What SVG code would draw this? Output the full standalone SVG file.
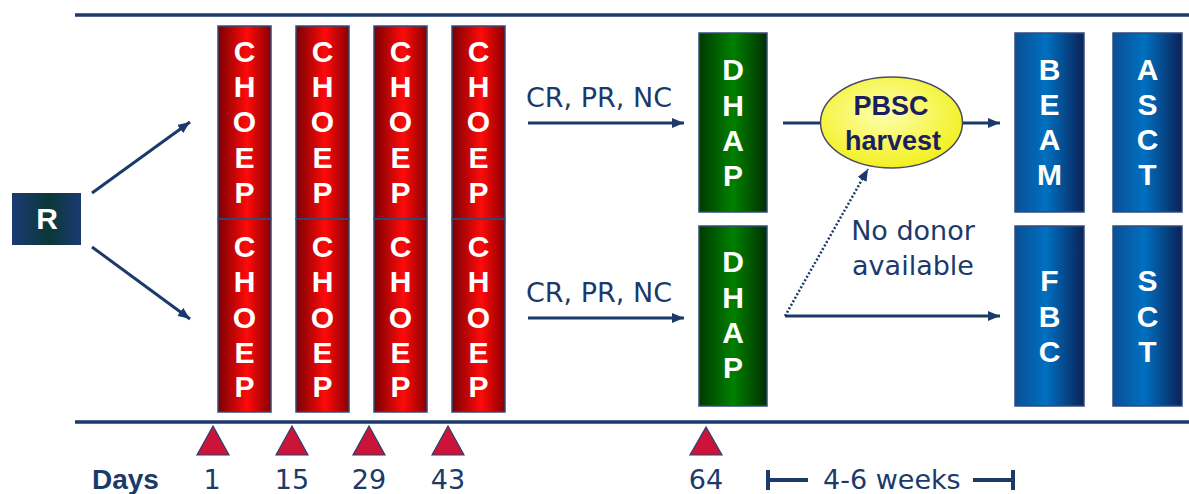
<svg xmlns="http://www.w3.org/2000/svg" width="1189" height="494" viewBox="0 0 1189 494">
<defs>
<linearGradient id="gRed" x1="0" y1="0" x2="1" y2="0">
<stop offset="0" stop-color="#7a0000"/>
<stop offset="0.55" stop-color="#ff0a0a"/>
<stop offset="1" stop-color="#8a0000"/>
</linearGradient>
<linearGradient id="gGreen" x1="0" y1="0" x2="1" y2="0">
<stop offset="0" stop-color="#003a00"/>
<stop offset="0.5" stop-color="#008000"/>
<stop offset="1" stop-color="#003000"/>
</linearGradient>
<linearGradient id="gBlue" x1="0" y1="0" x2="1" y2="0">
<stop offset="0" stop-color="#0a4f95"/>
<stop offset="0.45" stop-color="#0070c0"/>
<stop offset="1" stop-color="#0b2258"/>
</linearGradient>
<linearGradient id="gR" x1="0" y1="0" x2="1" y2="0">
<stop offset="0" stop-color="#1b3a72"/>
<stop offset="0.55" stop-color="#0a3838"/>
<stop offset="1" stop-color="#1b3a72"/>
</linearGradient>
<radialGradient id="gYel" cx="0.45" cy="0.4" r="0.6">
<stop offset="0" stop-color="#ffffb0"/>
<stop offset="1" stop-color="#f2f020"/>
</radialGradient>
<marker id="ah" viewBox="0 0 12 10" refX="12" refY="5" markerWidth="12" markerHeight="10" orient="auto" markerUnits="userSpaceOnUse">
<path d="M0,0 L12,5 L0,10 z" fill="#1b3a6b"/>
</marker>
<style>
.col{stroke:#34497a;stroke-width:1.5}
.red{fill:url(#gRed)}
.grn{fill:url(#gGreen)}
.blu{fill:url(#gBlue)}
.lt{font-family:"Liberation Sans",Arial,sans-serif;font-weight:bold;font-size:30px;fill:#ffffff;text-anchor:middle}
.lbl{font-family:"DejaVu Sans",Verdana,sans-serif;font-size:27px;fill:#1b3a6b}
.num{font-family:"DejaVu Sans",Verdana,sans-serif;font-size:27px;fill:#1b3a6b;text-anchor:middle}
.ln{stroke:#1b3a6b;stroke-width:3;fill:none}
.tri{fill:#cc1438;stroke:#2a3f70;stroke-width:1.2}
</style>
</defs>
<rect width="1189" height="494" fill="#ffffff"/>

<g id="frame">
<line x1="75" y1="15" x2="1189" y2="15" stroke="#1b3a6b" stroke-width="3.5"/>
<line x1="75" y1="422" x2="1189" y2="422" stroke="#1b3a6b" stroke-width="3.5"/>
</g>

<g id="R">
<rect x="12" y="193" width="69" height="52" fill="url(#gR)"/>
<text x="47" y="229" font-family="Liberation Sans,Arial,sans-serif" font-weight="bold" font-size="30" fill="#ffffff" text-anchor="middle">R</text>
</g>

<g id="choep1">
<rect class="col red" x="218" y="26" width="53" height="193"/>
<rect class="col red" x="218" y="219" width="53" height="193"/>
<text class="lt"><tspan x="244.5" y="62">C</tspan><tspan x="244.5" y="97">H</tspan><tspan x="244.5" y="132">O</tspan><tspan x="244.5" y="168">E</tspan><tspan x="244.5" y="203">P</tspan></text>
<text class="lt"><tspan x="244.5" y="257">C</tspan><tspan x="244.5" y="292">H</tspan><tspan x="244.5" y="328">O</tspan><tspan x="244.5" y="363">E</tspan><tspan x="244.5" y="397">P</tspan></text>
</g>
<g id="choep2">
<rect class="col red" x="296" y="26" width="53" height="193"/>
<rect class="col red" x="296" y="219" width="53" height="193"/>
<text class="lt"><tspan x="322.5" y="62">C</tspan><tspan x="322.5" y="97">H</tspan><tspan x="322.5" y="132">O</tspan><tspan x="322.5" y="168">E</tspan><tspan x="322.5" y="203">P</tspan></text>
<text class="lt"><tspan x="322.5" y="257">C</tspan><tspan x="322.5" y="292">H</tspan><tspan x="322.5" y="328">O</tspan><tspan x="322.5" y="363">E</tspan><tspan x="322.5" y="397">P</tspan></text>
</g>
<g id="choep3">
<rect class="col red" x="374" y="26" width="53" height="193"/>
<rect class="col red" x="374" y="219" width="53" height="193"/>
<text class="lt"><tspan x="400.5" y="62">C</tspan><tspan x="400.5" y="97">H</tspan><tspan x="400.5" y="132">O</tspan><tspan x="400.5" y="168">E</tspan><tspan x="400.5" y="203">P</tspan></text>
<text class="lt"><tspan x="400.5" y="257">C</tspan><tspan x="400.5" y="292">H</tspan><tspan x="400.5" y="328">O</tspan><tspan x="400.5" y="363">E</tspan><tspan x="400.5" y="397">P</tspan></text>
</g>
<g id="choep4">
<rect class="col red" x="452" y="26" width="53" height="193"/>
<rect class="col red" x="452" y="219" width="53" height="193"/>
<text class="lt"><tspan x="478.5" y="62">C</tspan><tspan x="478.5" y="97">H</tspan><tspan x="478.5" y="132">O</tspan><tspan x="478.5" y="168">E</tspan><tspan x="478.5" y="203">P</tspan></text>
<text class="lt"><tspan x="478.5" y="257">C</tspan><tspan x="478.5" y="292">H</tspan><tspan x="478.5" y="328">O</tspan><tspan x="478.5" y="363">E</tspan><tspan x="478.5" y="397">P</tspan></text>
</g>

<g id="dhap1">
<rect class="col grn" x="699" y="33" width="68" height="179"/>
<text class="lt"><tspan x="733" y="80">D</tspan><tspan x="733" y="116">H</tspan><tspan x="733" y="151">A</tspan><tspan x="733" y="186">P</tspan></text>
</g>
<g id="dhap2">
<rect class="col grn" x="699" y="226" width="68" height="180"/>
<text class="lt"><tspan x="733" y="272">D</tspan><tspan x="733" y="308">H</tspan><tspan x="733" y="343">A</tspan><tspan x="733" y="378">P</tspan></text>
</g>

<g id="pbsc">
<ellipse cx="891.5" cy="122.5" rx="71" ry="45.5" fill="url(#gYel)" stroke="#4a4a6a" stroke-width="1.5"/>
<text font-family="Liberation Sans,Arial,sans-serif" font-weight="bold" font-size="27" fill="#1a1f5e" text-anchor="middle"><tspan x="891" y="115">PBSC</tspan><tspan x="893" y="150">harvest</tspan></text>
</g>

<g id="beam">
<rect class="col blu" x="1015" y="33" width="69" height="179"/>
<text class="lt"><tspan x="1049.5" y="80">B</tspan><tspan x="1049.5" y="115">E</tspan><tspan x="1049.5" y="150">A</tspan><tspan x="1049.5" y="185">M</tspan></text>
</g>
<g id="asct">
<rect class="col blu" x="1113" y="33" width="69" height="179"/>
<text class="lt"><tspan x="1147.5" y="80">A</tspan><tspan x="1147.5" y="115">S</tspan><tspan x="1147.5" y="150">C</tspan><tspan x="1147.5" y="185">T</tspan></text>
</g>
<g id="fbc">
<rect class="col blu" x="1015" y="226" width="69" height="180"/>
<text class="lt"><tspan x="1049.5" y="291">F</tspan><tspan x="1049.5" y="327">B</tspan><tspan x="1049.5" y="362">C</tspan></text>
</g>
<g id="sct">
<rect class="col blu" x="1113" y="226" width="69" height="180"/>
<text class="lt"><tspan x="1147.5" y="291">S</tspan><tspan x="1147.5" y="327">C</tspan><tspan x="1147.5" y="362">T</tspan></text>
</g>

<g id="connectors">
<line class="ln" x1="92" y1="193" x2="190" y2="122" marker-end="url(#ah)"/>
<line class="ln" x1="92" y1="247" x2="190" y2="319" marker-end="url(#ah)"/>
<line class="ln" x1="528" y1="123" x2="684" y2="123" marker-end="url(#ah)"/>
<line class="ln" x1="528" y1="318" x2="684" y2="318" marker-end="url(#ah)"/>
<line class="ln" x1="783" y1="123" x2="820" y2="123"/>
<line class="ln" x1="963" y1="123" x2="1000" y2="123" marker-end="url(#ah)"/>
<line class="ln" x1="785" y1="316" x2="1000" y2="316" marker-end="url(#ah)"/>
<line x1="785" y1="316" x2="868" y2="169" stroke="#1b3a6b" stroke-width="2.5" stroke-dasharray="2,2" marker-end="url(#ah)"/>
</g>

<g id="labels">
<text class="lbl" x="526" y="107">CR, PR, NC</text>
<text class="lbl" x="526" y="302">CR, PR, NC</text>
<text class="lbl" text-anchor="middle"><tspan x="913" y="240">No donor</tspan><tspan x="913" y="275">available</tspan></text>
</g>

<g id="timeline">
<polygon class="tri" points="213,426 197,455 229,455"/>
<polygon class="tri" points="292,426 276,455 308,455"/>
<polygon class="tri" points="369,426 353,455 385,455"/>
<polygon class="tri" points="448,426 432,455 464,455"/>
<polygon class="tri" points="706,427 690,455 722,455"/>
<text x="92" y="489" font-family="Liberation Sans,Arial,sans-serif" font-weight="bold" font-size="28" fill="#1b3a6b">Days</text>
<text class="num" x="212" y="489">1</text>
<text class="num" x="292" y="489">15</text>
<text class="num" x="369" y="489">29</text>
<text class="num" x="448" y="489">43</text>
<text class="num" x="706" y="489">64</text>
<path d="M768,470 V490 M768,480 H808 M973,480 H1013 M1013,470 V490" stroke="#1b3a6b" stroke-width="4" fill="none"/>
<text class="lbl" x="823" y="489">4-6 weeks</text>
</g>
</svg>
